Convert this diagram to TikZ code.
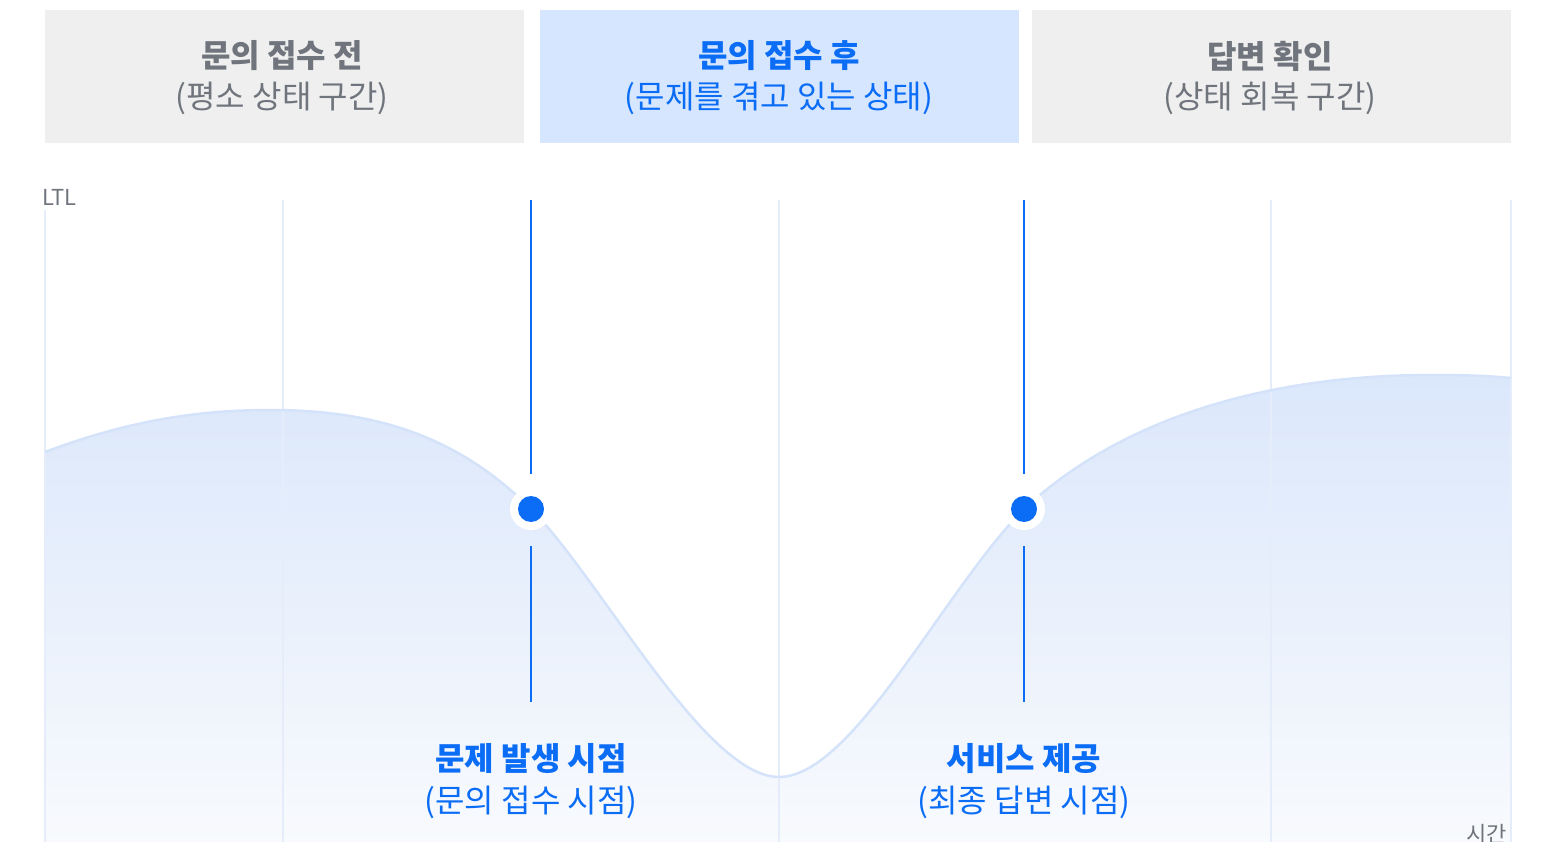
\documentclass[tikz,border=0pt]{standalone}
\usepackage{fontspec}
\setmainfont{Noto Sans CJK KR}
\definecolor{graybox}{HTML}{EFEFEF}
\definecolor{graytext}{HTML}{70757D}
\definecolor{bluebox}{HTML}{D5E6FE}
\definecolor{bluetext}{HTML}{0B6DF6}
\definecolor{gridc}{HTML}{E5EDFA}
\definecolor{curvec}{HTML}{D4E3FA}
\definecolor{filltop}{HTML}{DBE7FB}
\definecolor{fillbot}{HTML}{F8FAFD}
\tikzset{
  box/.style={draw=none, minimum width=479pt, minimum height=133pt, inner sep=0pt},
  ttl/.style={font=\fontsize{32}{38}\selectfont\bfseries, inner sep=0pt},
  sub/.style={font=\fontsize{32}{38}\selectfont, inner sep=0pt},
  axislbl/.style={font=\fontsize{22}{26}\selectfont, text=graytext, inner sep=0pt},
  gridline/.style={draw=gridc, line width=1.5pt},
  marker/.style={draw=bluetext, line width=1.8pt},
  halo/.style={circle, fill=white, minimum size=42pt, inner sep=0pt},
  dot/.style={circle, fill=bluetext, minimum size=26pt, inner sep=0pt},
}
\begin{document}
\begin{tikzpicture}[x=1pt, y=-1pt]
\useasboundingbox (0,0) rectangle (1547,842);
% header boxes
\node[box, fill=graybox] (b1) at (284,76.5) {};
\node[box, fill=bluebox] (b2) at (779.5,76.5) {};
\node[box, fill=graybox] (b3) at (1271.5,76.5) {};
\node[ttl, text=graytext] (t1) at (282,56) {문의 접수 전};
\node[sub, text=graytext] (s1) at (282,98) {(평소 상태 구간)};
\node[ttl, text=bluetext] (t2) at (779,56) {문의 접수 후};
\node[sub, text=bluetext] (s2) at (779,98) {(문제를 겪고 있는 상태)};
\node[ttl, text=graytext] (t3) at (1270,56) {답변 확인};
\node[sub, text=graytext] (s3) at (1270,98) {(상태 회복 구간)};
% area fill
\shade[top color=filltop, bottom color=fillbot]
  (45,842) -- (45,452)
  .. controls (130,420) and (200,410) .. (270,410)
  .. controls (370,410) and (455,433) .. (531,509)
  .. controls (600,578) and (705,777) .. (779,777)
  .. controls (853,777) and (945,588) .. (1024,509)
  .. controls (1150,392) and (1330,375) .. (1430,375)
  .. controls (1470,375) and (1490,376) .. (1511,378)
  -- (1511,842) -- cycle;
% grid
\coordinate (g1a) at (45,210);   \coordinate (g1b) at (45,842);
\coordinate (g2a) at (283,200);  \coordinate (g2b) at (283,842);
\coordinate (g3a) at (779,200);  \coordinate (g3b) at (779,842);
\coordinate (g4a) at (1271,200); \coordinate (g4b) at (1271,842);
\coordinate (g5a) at (1511,200); \coordinate (g5b) at (1511,842);
\draw[gridline] (g1a) -- (g1b);
\draw[gridline] (g2a) -- (g2b);
\draw[gridline] (g3a) -- (g3b);
\draw[gridline] (g4a) -- (g4b);
\draw[gridline] (g5a) -- (g5b);
% curve
\draw[draw=curvec, line width=2.5pt]
  (45,452)
  .. controls (130,420) and (200,410) .. (270,410)
  .. controls (370,410) and (455,433) .. (531,509)
  .. controls (600,578) and (705,777) .. (779,777)
  .. controls (853,777) and (945,588) .. (1024,509)
  .. controls (1150,392) and (1330,375) .. (1430,375)
  .. controls (1470,375) and (1490,376) .. (1511,378);
% markers
\coordinate (m1a) at (531,200); \coordinate (m1b) at (531,474);
\coordinate (m1c) at (531,546); \coordinate (m1d) at (531,702);
\coordinate (m2a) at (1024,200); \coordinate (m2b) at (1024,474);
\coordinate (m2c) at (1024,546); \coordinate (m2d) at (1024,702);
\draw[marker] (m1a) -- (m1b);
\draw[marker] (m1c) -- (m1d);
\draw[marker] (m2a) -- (m2b);
\draw[marker] (m2c) -- (m2d);
\node[halo] (h1) at (531,509) {};
\node[dot] (d1) at (h1) {};
\node[halo] (h2) at (1024,509) {};
\node[dot] (d2) at (h2) {};
% labels
\node[ttl, text=bluetext] (l1) at (531,759) {문제 발생 시점};
\node[sub, text=bluetext] (l1s) at (531,802) {(문의 접수 시점)};
\node[ttl, text=bluetext] (l2) at (1024,759) {서비스 제공};
\node[sub, text=bluetext] (l2s) at (1024,802) {(최종 답변 시점)};
\node[axislbl, anchor=west] (ltl) at (42,197) {LTL};
\node[axislbl, anchor=east] (time) at (1507,834) {시간};
\end{tikzpicture}
\end{document}
